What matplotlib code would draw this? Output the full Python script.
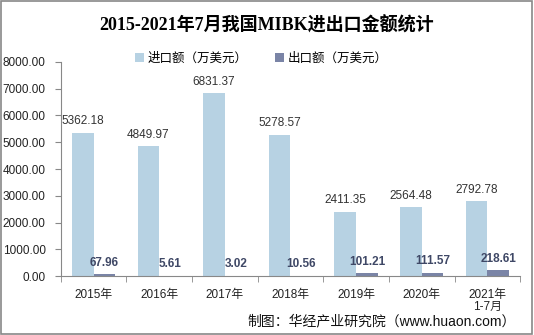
import numpy as np
import matplotlib.pyplot as plt
from matplotlib.patches import Rectangle

plt.rcParams['font.family'] = ['Liberation Sans', 'Noto Sans CJK SC', 'DejaVu Sans']

years = ['2015年', '2016年', '2017年', '2018年', '2019年', '2020年', '2021年\n1-7月']
imports = [5362.18, 4849.97, 6831.37, 5278.57, 2411.35, 2564.48, 2792.78]
exports = [67.96, 5.61, 3.02, 10.56, 101.21, 111.57, 218.61]

c_imp = '#b7d2e3'
c_exp = '#7a84a6'

fig = plt.figure(figsize=(5.34, 3.35), dpi=100)
ax = fig.add_axes([0.114, 0.176, 0.86, 0.639])

x = np.arange(len(years))
w = 0.33
ax.bar(x - w / 2, imports, w, color=c_imp, label='进口额（万美元）')
ax.bar(x + w / 2, exports, w, color=c_exp, label='出口额（万美元）')

for xi, v in zip(x, imports):
    ax.annotate('%.2f' % v, (xi - w / 2, v), xytext=(0, 4), textcoords='offset points',
                ha='center', va='bottom', fontsize=8.5, color='#333333')
for xi, v in zip(x, exports):
    ax.annotate('%.2f' % v, (xi + w / 2, v), xytext=(0, 4), textcoords='offset points',
                ha='center', va='bottom', fontsize=8.5, color='#3f4866', fontweight='bold')

ax.set_xlim(-0.5, len(years) - 0.5)
ax.set_ylim(0, 8000)
ax.set_yticks(np.arange(0, 8001, 1000))
ax.set_yticklabels(['%.2f' % t for t in np.arange(0, 8001, 1000)], fontsize=8.5, color='#222222')
ax.set_xticks(x)
ax.set_xticklabels(years, fontsize=8.5, color='#222222', linespacing=1.0)
ax.set_xticks(np.arange(-0.5, len(years)), minor=True)
ax.tick_params(axis='x', which='major', length=0, pad=9)
ax.tick_params(axis='x', which='minor', length=4, color='#888888')
ax.tick_params(axis='y', length=4, color='#888888', pad=7)

for s in ['top', 'right']:
    ax.spines[s].set_visible(False)
ax.spines['left'].set_color('#888888')
ax.spines['bottom'].set_color('#888888')

fig.text(0.5, 0.925, '2015-2021年7月我国MIBK进出口金额统计', ha='center', va='center',
         fontsize=13, fontweight='bold', family=['Liberation Serif', 'Noto Sans CJK SC'])

ax.legend(loc='center', bbox_to_anchor=(0.49, 0.825), bbox_transform=fig.transFigure,
          ncol=2, frameon=False, fontsize=9, handlelength=0.7, handleheight=0.7,
          columnspacing=2.2, handletextpad=0.3)

fig.text(0.965, 0.04, '制图：华经产业研究院（www.huaon.com）', ha='right', va='center',
         fontsize=10, color='#111111')

fig.patches.append(Rectangle((0.002, 0.003), 0.995, 0.994, transform=fig.transFigure,
                             fill=False, edgecolor='#888888', linewidth=1.2))

fig.savefig('out.png', dpi=100)
